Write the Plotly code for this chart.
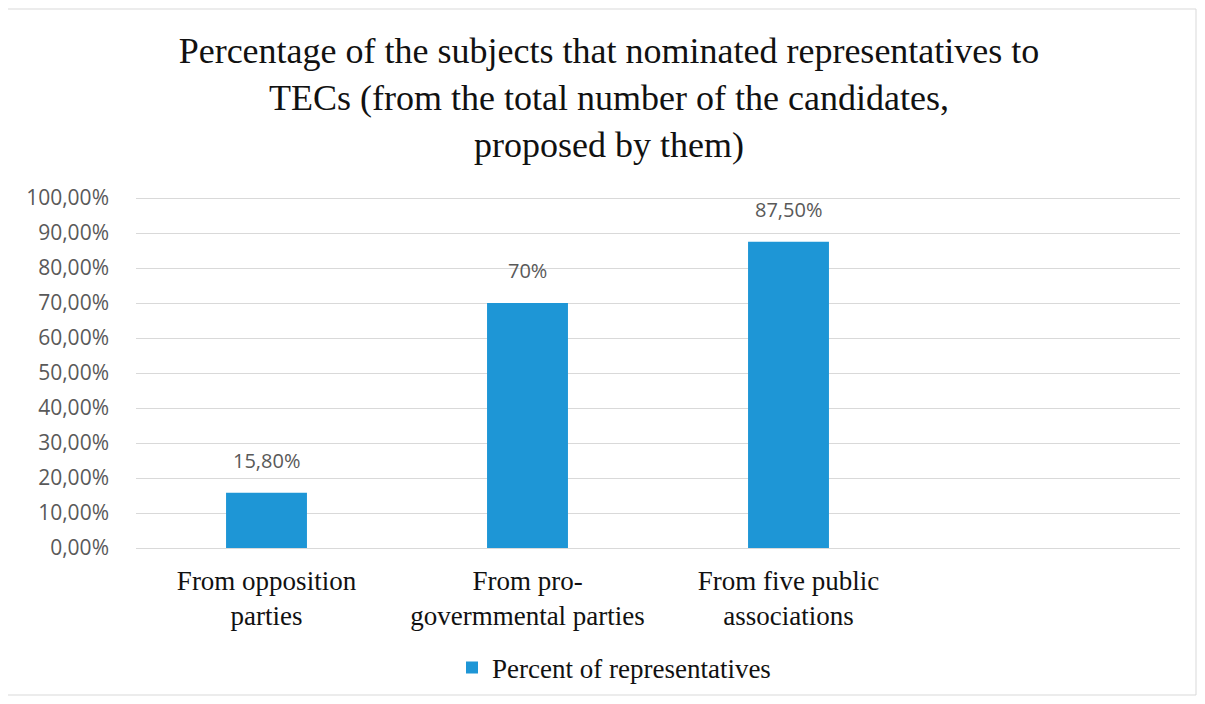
import plotly.graph_objects as go

categories = ["From opposition<br>parties", "From pro-<br>govermmental parties",
              "From five public<br>associations", " "]
values = [15.8, 70, 87.5, None]
value_labels = ["15,80%", "70%", "87,50%", ""]
series_name = "Percent of representatives"
tick_vals = [0, 10, 20, 30, 40, 50, 60, 70, 80, 90, 100]
tick_text = ["0,00%", "10,00%", "20,00%", "30,00%", "40,00%", "50,00%",
             "60,00%", "70,00%", "80,00%", "90,00%", "100,00%"]
title_text = ("Percentage of the subjects that nominated representatives to<br>"
              "TECs (from the total number of the candidates,<br>proposed by them)")

OFF = 8  # page body margin
W, H = 1205 - 2 * OFF, 704 - 2 * OFF
# plot area in page pixels: x 136..1180, y 197..548
L = 136 - OFF
R = W - (1180 - OFF)
T = 197 - OFF
B = H - (548 - OFF)
pw, ph = W - L - R, H - T - B


def px_x(p):
    return (p - OFF - L) / pw


def px_y(p):
    return (H - B - (p - OFF)) / ph


BAR = "#1e96d6"
GRAY = "#595959"
SERIF = "Liberation Serif, Times New Roman, serif"
SANS = "Open Sans, sans-serif"

fig = go.Figure()
fig.add_trace(go.Bar(
    x=categories, y=values, name=series_name,
    marker=dict(color=BAR, line=dict(width=0)),
    width=0.31,
    showlegend=True,
))

annotations = []
for c, v, t in zip(categories, values, value_labels):
    if v is None:
        continue
    annotations.append(dict(x=c, y=v, xref="x", yref="y", text=t, showarrow=False,
                            yanchor="bottom", yshift=17,
                            font=dict(family=SANS, size=20, color=GRAY)))

fig.update_layout(
    width=W, height=H,
    margin=dict(l=L, r=R, t=T, b=B, autoexpand=False),
    paper_bgcolor="white", plot_bgcolor="white",
    title=dict(text=title_text, x=(609 - OFF) / W, xref="container", xanchor="center",
               y=1 - 55 / H, yref="container", yanchor="top",
               font=dict(family=SERIF, size=36, color="#111")),
    xaxis=dict(
        type="category", showgrid=False, showline=False, ticks="",
        tickfont=dict(family=SERIF, size=27, color="#111"),
        ticklabelstandoff=14, automargin=False,
    ),
    yaxis=dict(
        range=[0, 100.3], tickvals=tick_vals, ticktext=tick_text,
        showgrid=True, gridcolor="#d9d9d9", gridwidth=1,
        zeroline=True, zerolinecolor="#d9d9d9", zerolinewidth=1,
        showline=False, ticks="",
        tickfont=dict(family=SANS, size=21, color=GRAY),
        ticklabelstandoff=26, automargin=False,
    ),
    legend=dict(orientation="h", x=px_x(614), xanchor="center",
                y=px_y(668), yanchor="middle",
                font=dict(family=SERIF, size=27, color="#111"),
                itemwidth=30),
    annotations=annotations,
    shapes=[dict(type="rect", xref="paper", yref="paper",
                 x0=px_x(7), x1=px_x(1196), y0=px_y(695), y1=px_y(9),
                 line=dict(color="#d9d9d9", width=1), fillcolor="rgba(0,0,0,0)",
                 layer="below")],
)

fig.write_html("out.html")
